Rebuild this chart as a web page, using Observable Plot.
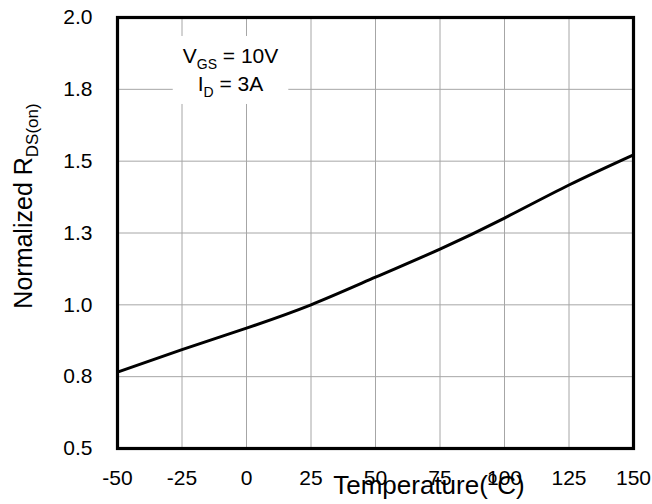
<!DOCTYPE html>
<html>
<head>
<meta charset="utf-8">
<script src="https://cdn.jsdelivr.net/npm/d3@7"></script>
<script src="https://cdn.jsdelivr.net/npm/@observablehq/plot@0.6"></script>
<style>
  html, body { margin: 0; padding: 0; background: white; }
  svg { display: block; }
</style>
</head>
<body>
<div id="chart"></div>
<script>
// ---- data ----
const temps = [-50, -25, 0, 25, 50, 75, 100, 125, 150];
const rdsOn = [0.766, 0.844, 0.919, 1.0, 1.096, 1.194, 1.302, 1.417, 1.522];

const xTicks = [-50, -25, 0, 25, 50, 75, 100, 125, 150];
const xTickLabels = ["-50", "-25", "0", "25", "50", "75", "100", "125", "150"];
const yTicks = [0.5, 0.75, 1.0, 1.25, 1.5, 1.75, 2.0];
const yTickLabels = ["0.5", "0.8", "1.0", "1.3", "1.5", "1.8", "2.0"];

const xTitle = ["Temperature(", "o", "C)"];
const yTitle = ["Normalized R", "DS(on)"];
const annotLines = [["V", "GS", " = 10V"], ["I", "D", " = 3A"]];
const annotAt = { x: -6, y: 1.84 };

const data = temps.map((t, i) => ({ t, r: rdsOn[i] }));
const FONT = "'Liberation Sans', Arial, Helvetica, sans-serif";

const chart = Plot.plot({
  width: 652,
  height: 504,
  marginLeft: 117,
  marginRight: 19,
  marginTop: 17,
  marginBottom: 56,
  style: { fontFamily: FONT, background: "white", color: "black" },
  x: { domain: [-50, 150] },
  y: { domain: [0.5, 2.0] },
  marks: [
    Plot.gridX(xTicks, { stroke: "#a6a6a6", strokeOpacity: 1, strokeWidth: 1 }),
    Plot.gridY(yTicks, { stroke: "#a6a6a6", strokeOpacity: 1, strokeWidth: 1 }),
    Plot.line(data, { x: "t", y: "r", stroke: "black", strokeWidth: 3, curve: "natural" }),
    Plot.frame({ stroke: "black", strokeWidth: 3.2 }),
    Plot.axisX(xTicks, {
      tickSize: 0, tickPadding: 22, fontSize: 21, label: null,
      tickFormat: d => xTickLabels[xTicks.indexOf(d)]
    }),
    Plot.axisY(yTicks, {
      tickSize: 0, tickPadding: 25, fontSize: 21, label: null,
      tickFormat: d => yTickLabels[yTicks.indexOf(d)]
    })
  ]
});

document.getElementById("chart").appendChild(chart);
const svg = d3.select(chart);
const xs = chart.scale("x"), ys = chart.scale("y");

// ---- annotation ----
const ax = xs.apply(annotAt.x), ay = ys.apply(annotAt.y);
const ag = svg.append("g").attr("font-family", FONT);
const rect = ag.append("rect").attr("fill", "white");
const at = ag.append("text").attr("text-anchor", "middle").attr("font-size", 21);
annotLines.forEach((ln, i) => {
  const line = at.append("tspan").attr("x", ax).attr("y", ay + i * 28);
  line.append("tspan").text(ln[0]);
  line.append("tspan").attr("font-size", 14).attr("dy", 6).text(ln[1]);
  line.append("tspan").attr("dy", -6).text(ln[2]);
});
const bb = at.node().getBBox();
rect.attr("x", bb.x - 10).attr("y", bb.y - 8).attr("width", bb.width + 20).attr("height", bb.height + 12);

// ---- x title ----
const xt = svg.append("text")
  .attr("font-family", FONT).attr("font-size", 26).attr("text-anchor", "middle")
  .attr("x", 429).attr("y", 494);
xt.append("tspan").text(xTitle[0]);
xt.append("tspan").attr("font-size", 17).attr("dy", -11).text(xTitle[1]);
xt.append("tspan").attr("dy", 11).text(xTitle[2]);

// ---- y title ----
const yt = svg.append("text")
  .attr("font-family", FONT).attr("font-size", 25).attr("text-anchor", "middle")
  .attr("transform", "translate(32,206) rotate(-90)");
yt.append("tspan").text(yTitle[0]);
yt.append("tspan").attr("font-size", 17).attr("dy", 6).text(yTitle[1]);
</script>
</body>
</html>
